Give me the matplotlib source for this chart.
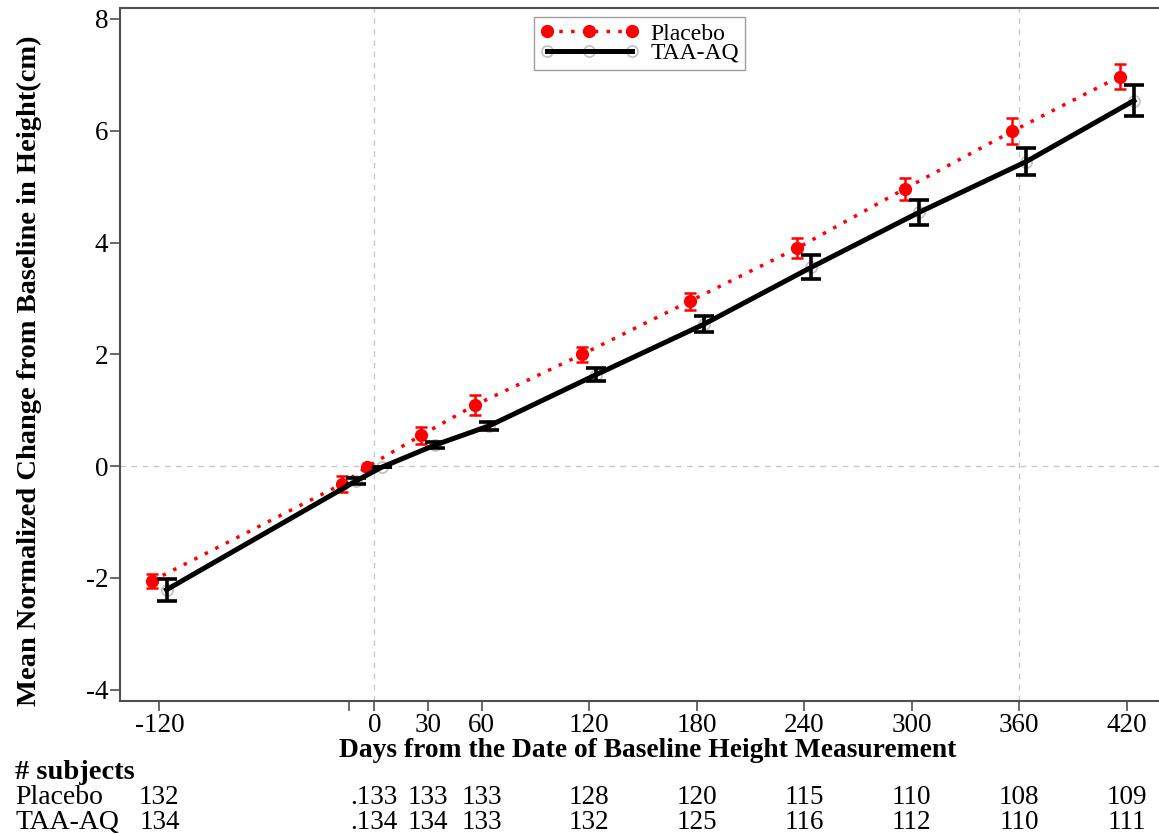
import numpy as np
import matplotlib
matplotlib.use("Agg")
import matplotlib.pyplot as plt
import matplotlib.transforms as mtransforms

plt.rcParams['font.family'] = ['Liberation Serif', 'DejaVu Serif']
plt.rcParams['axes.unicode_minus'] = False

# visit days (nominal) and dodged plotting positions
tick_days = [-120, -14, 0, 30, 60, 120, 180, 240, 300, 360, 420]
tick_labels = ['-120', '', '0', '30', '60', '120', '180', '240', '300', '360', '420']
placebo_days = [-124, -18, -4, 26, 56, 116, 176, 236, 296, 356, 416]
taa_days = [-116, -10, 4, 34, 64, 124, 184, 244, 304, 364, 424]

placebo_mean = [-2.05, -0.32, -0.01, 0.55, 1.09, 2.00, 2.95, 3.90, 4.96, 5.99, 6.97]
placebo_err = [0.13, 0.15, 0.0, 0.15, 0.18, 0.14, 0.15, 0.18, 0.20, 0.23, 0.23]
taa_mean = [-2.21, -0.26, -0.02, 0.38, 0.72, 1.64, 2.54, 3.56, 4.54, 5.45, 6.54]
taa_err = [0.20, 0.05, 0.0, 0.06, 0.07, 0.12, 0.14, 0.22, 0.23, 0.24, 0.27]

# number of subjects table
table_days = [-120, 0, 30, 60, 120, 180, 240, 300, 360, 420]
placebo_n = ['132', '.133', '133', '133', '128', '120', '115', '110', '108', '109']
taa_n = ['134', '.134', '134', '133', '132', '125', '116', '112', '110', '111']

fig = plt.figure(figsize=(11.59, 8.34), dpi=100)
ax = fig.add_axes([0.1035, 0.1595, 0.8965, 0.8305])

grid_kw = dict(color='#c8c8c8', lw=1, ls=(0, (4, 4)), zorder=0)
ax.axvline(0, **grid_kw)
ax.axvline(360, **grid_kw)
ax.axhline(0, **grid_kw)

ax.errorbar(placebo_days, placebo_mean, yerr=placebo_err, fmt='none',
            ecolor='red', elinewidth=1.8, capsize=4.5, capthick=1.8, zorder=3)
ax.errorbar(taa_days, taa_mean, yerr=taa_err, fmt='none',
            ecolor='black', elinewidth=2.6, capsize=7, capthick=2.6, zorder=5)

pl_line, = ax.plot(placebo_days, placebo_mean, color='red', lw=2.5, ls=(0, (1.0, 2.4)),
                   marker='o', ms=8.5, mfc='red', mec='red', zorder=3)
taa_mk, = ax.plot(taa_days, taa_mean, ls='none', marker='o', ms=8, mfc='none',
                  mec='#c4c4c4', mew=1.3, zorder=2)
taa_line, = ax.plot(taa_days, taa_mean, color='black', lw=3.6, ls='-', zorder=4)

ax.set_xlim(-142, 438)
ax.set_ylim(-4.2, 8.19)
ax.set_xticks(tick_days)
ax.set_xticklabels(tick_labels)
ax.set_yticks([-4, -2, 0, 2, 4, 6, 8])

for side in ['left', 'bottom', 'top']:
    ax.spines[side].set_color('#505050')
    ax.spines[side].set_linewidth(1.5)
ax.spines['right'].set_visible(False)
ax.tick_params(axis='both', labelsize=19.5, length=7, width=1.2, color='#505050', pad=1.5)

ax.set_xlabel('Days from the Date of Baseline Height Measurement',
              fontsize=19.8, fontweight='bold', va='center')
ax.xaxis.set_label_coords(0.508, -0.072)
ax.set_ylabel('Mean Normalized Change from Baseline in Height(cm)',
              fontsize=20.5, fontweight='bold', va='center')
ax.yaxis.set_label_coords(-0.087, 0.477)

leg = ax.legend([pl_line, (taa_mk, taa_line)], ['Placebo', 'TAA-AQ'],
                loc='upper center', fontsize=17, numpoints=3, handlelength=4.2,
                handletextpad=0.5, labelspacing=-0.1, borderaxespad=0.38,
                fancybox=False, framealpha=1, edgecolor='#a0a0a0', borderpad=0.25)
leg.get_frame().set_linewidth(1.0)

# subjects table below the axis
fig.text(0.013, 0.074, '# subjects', fontsize=20.5, fontweight='bold', va='center')
fig.text(0.013, 0.044, 'Placebo', fontsize=20, va='center')
fig.text(0.013, 0.014, 'TAA-AQ', fontsize=20, va='center')
trans = mtransforms.blended_transform_factory(ax.transData, fig.transFigure)
for d, pn, tn in zip(table_days, placebo_n, taa_n):
    ax.text(d, 0.044, pn, transform=trans, fontsize=19.5, ha='center', va='center')
    ax.text(d, 0.014, tn, transform=trans, fontsize=19.5, ha='center', va='center')

fig.savefig('out.png', dpi=100)
